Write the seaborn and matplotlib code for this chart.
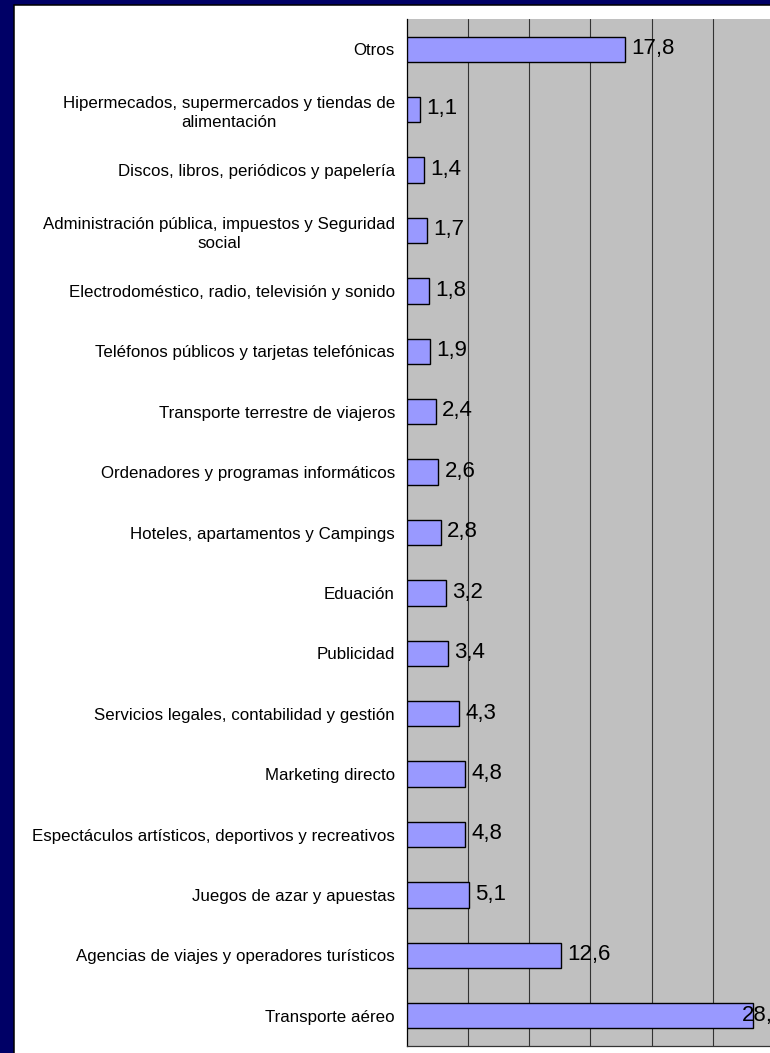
import matplotlib
matplotlib.use("Agg")
import matplotlib.pyplot as plt
from matplotlib.patches import Rectangle
import seaborn as sns
import pandas as pd
import numpy as np

categories = [
    "Otros",
    "Hipermecados, supermercados y tiendas de\nalimentación",
    "Discos, libros, periódicos y papelería",
    "Administración pública, impuestos y Seguridad\nsocial",
    "Electrodoméstico, radio, televisión y sonido",
    "Teléfonos públicos y tarjetas telefónicas",
    "Transporte terrestre de viajeros",
    "Ordenadores y programas informáticos",
    "Hoteles, apartamentos y Campings",
    "Eduación",
    "Publicidad",
    "Servicios legales, contabilidad y gestión",
    "Marketing directo",
    "Espectáculos artísticos, deportivos y recreativos",
    "Juegos de azar y apuestas",
    "Agencias de viajes y operadores turísticos",
    "Transporte aéreo",
]
values = [17.8, 1.1, 1.4, 1.7, 1.8, 1.9, 2.4, 2.6, 2.8, 3.2, 3.4, 4.3, 4.8, 4.8, 5.1, 12.6, 28.3]
value_labels = ["17,8", "1,1", "1,4", "1,7", "1,8", "1,9", "2,4", "2,6", "2,8", "3,2",
                "3,4", "4,3", "4,8", "4,8", "5,1", "12,6", "28,3"]
x_max = 30
x_grid = [5, 10, 15, 20, 25, 30]

sns.set_style("white")
plt.rcParams['font.family'] = ['Liberation Sans', 'DejaVu Sans']

W, H = 770, 1053
fig = plt.figure(figsize=(W / 100, H / 100), dpi=100)
fig.patch.set_facecolor('#000066')
fig.patches.append(Rectangle((14 / W, -0.1), 1.2, 1048 / H + 0.1, transform=fig.transFigure,
                             facecolor='white', edgecolor='black', linewidth=1.1, zorder=-10))

ax = fig.add_axes([406.5 / W, 7 / H, 367.5 / W, 1027 / H])
ax.set_zorder(5)
df = pd.DataFrame({"cat": categories, "val": values})
sns.barplot(data=df, x="val", y="cat", orient="h", color="#9999FF", saturation=1,
            width=0.42, edgecolor="black", linewidth=1.0, ax=ax, zorder=3)

ax.set_facecolor('#C0C0C0')
ax.set_xlim(0, x_max)
ax.set_ylim(len(categories) - 0.5, -0.5)
ax.set_xticks(x_grid)
ax.xaxis.grid(True, color='#333333', linewidth=0.8, zorder=1)
ax.set_axisbelow(True)
ax.tick_params(axis='x', length=0, labelbottom=False)
ax.set_xlabel("")
ax.set_ylabel("")

ax.set_yticks(range(len(categories)))
ax.set_yticklabels(categories, fontsize=12.2, color='black')
for lbl in ax.get_yticklabels():
    lbl.set_multialignment('center')
    lbl.set_linespacing(1.35)
ax.tick_params(axis='y', which='major', length=0, pad=8.3)
ax.set_yticks(np.arange(-0.5, len(categories), 1.0), minor=True)
ax.tick_params(axis='y', which='minor', length=4.5, width=0.8, color='black', direction='out')

for s in ['top', 'right']:
    ax.spines[s].set_visible(False)
ax.spines['left'].set_color('black')
ax.spines['left'].set_linewidth(0.9)
ax.spines['bottom'].set_color('#333333')
ax.spines['bottom'].set_linewidth(0.9)

for i, (v, t) in enumerate(zip(values, value_labels)):
    off = 4.5 if v < 27 else -8
    ax.annotate(t, xy=(v, i), xytext=(off, 0.5), textcoords='offset points',
                ha='left', va='center', fontsize=16, color='black', zorder=5,
                annotation_clip=False)

fig.savefig("out.png", dpi=100, facecolor=fig.get_facecolor())
